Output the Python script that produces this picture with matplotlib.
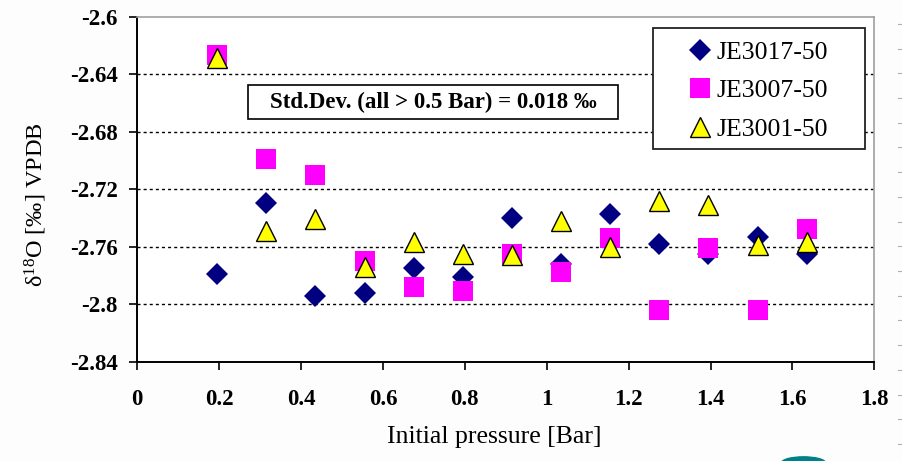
import matplotlib
matplotlib.use("Agg")
import matplotlib.pyplot as plt
from matplotlib.patches import Ellipse, Rectangle
from matplotlib.lines import Line2D

pressure = [0.195, 0.315, 0.435, 0.555, 0.675, 0.795, 0.915, 1.035, 1.155, 1.275, 1.395, 1.515, 1.635]
je3017 = [-2.779, -2.730, -2.794, -2.792, -2.775, -2.781, -2.740, -2.772, -2.737, -2.758, -2.765, -2.753, -2.765]
je3007 = [-2.627, -2.699, -2.710, -2.770, -2.788, -2.791, -2.765, -2.7775, -2.754, -2.804, -2.761, -2.804, -2.748]
je3001 = [-2.629, -2.749, -2.741, -2.774, -2.757, -2.765, -2.766, -2.742, -2.760, -2.728, -2.731, -2.759, -2.757]
labels = ["JE3017-50", "JE3007-50", "JE3001-50"]
yticks = [-2.84, -2.8, -2.76, -2.72, -2.68, -2.64, -2.6]
ytick_labels = ["-2.84", "-2.8", "-2.76", "-2.72", "-2.68", "-2.64", "-2.6"]
xticks = [0, 0.2, 0.4, 0.6, 0.8, 1, 1.2, 1.4, 1.6, 1.8]
xtick_labels = ["0", "0.2", "0.4", "0.6", "0.8", "1", "1.2", "1.4", "1.6", "1.8"]
note = "Std.Dev. (all > 0.5 Bar) = 0.018 \u2030"

plt.rcParams['font.family'] = ['Liberation Serif', 'DejaVu Serif']

fig = plt.figure(figsize=(9.03, 4.61), dpi=100)
fig.patch.set_facecolor('#fdfdfd')
ax = fig.add_axes([0.1520, 0.2154, 0.8162, 0.7488])
ax.set_facecolor('white')

ax.set_xlim(0, 1.8)
ax.set_ylim(-2.84, -2.6)

for y in yticks[1:-1]:
    ax.axhline(y, color='black', lw=1.0, linestyle=(0, (2.2, 2.2)), zorder=1)

ax.plot(pressure, je3017, linestyle='none', marker='D', ms=11, color='#000080',
        markeredgewidth=0, label=labels[0], zorder=3)
ax.plot(pressure, je3007, linestyle='none', marker='s', ms=14.5, color='#ff00ff',
        markeredgewidth=0, label=labels[1], zorder=4)
ax.plot(pressure, je3001, linestyle='none', marker='^', ms=14, markerfacecolor='#ffff00',
        markeredgecolor='black', markeredgewidth=1.0, label=labels[2], zorder=5)

ax.set_xticks(xticks)
ax.set_xticklabels(xtick_labels, fontsize=16.5, fontweight='bold')
ax.set_yticks(yticks)
ax.set_yticklabels(ytick_labels, fontsize=16.5, fontweight='bold')
ax.tick_params(axis='x', direction='out', length=6, width=1.2, pad=14)
ax.tick_params(axis='y', direction='out', length=6, width=1.2, pad=8)

for s in ['left', 'bottom']:
    ax.spines[s].set_color('black')
    ax.spines[s].set_linewidth(1.4)
for s in ['top', 'right']:
    ax.spines[s].set_color('#a0a0a0')
    ax.spines[s].set_linewidth(1.2)

# legend frame drawn separately (axes coords), legend content without frame
ax.add_patch(Rectangle((0.700, 0.616), 0.287, 0.350, transform=ax.transAxes,
                       facecolor='white', edgecolor='#222222', lw=1.3, zorder=6))
leg = ax.legend(loc='upper left', bbox_to_anchor=(0.734, 0.952), borderaxespad=0,
                fontsize=18.5, frameon=False, labelspacing=0.61, handletextpad=0.08,
                borderpad=0.3, handlelength=1.1)
leg.set_zorder(7)

ax.add_patch(Rectangle((0.2703, -2.6715), 0.9036, 0.0239, facecolor='white',
                       edgecolor='black', lw=1.2, zorder=6))
ax.text(0.722, -2.6595, note, fontsize=16.5, fontweight='bold', ha='center', va='center',
        zorder=7)

fig.text(0.547, 0.052, "Initial pressure [Bar]", fontsize=18.5, ha='center', va='center')
fig.text(0.040, 0.557, r"$\mathregular{\delta^{18}O}$ [‰] VPDB", fontsize=17.5, rotation=90,
         ha='center', va='center')

# slide decorations at the right edge and bottom
for i in range(18):
    yy = 1 - (24 + i * 24.7) / 461
    fig.add_artist(Line2D([898 / 903, 903 / 903], [yy, yy], color='#b0b0b0', lw=0.8))
fig.add_artist(Ellipse((803.5 / 903, -0.004), 44 / 903, 12 / 461, color='#00808a'))

fig.savefig("out.png", dpi=100, facecolor=fig.get_facecolor())
